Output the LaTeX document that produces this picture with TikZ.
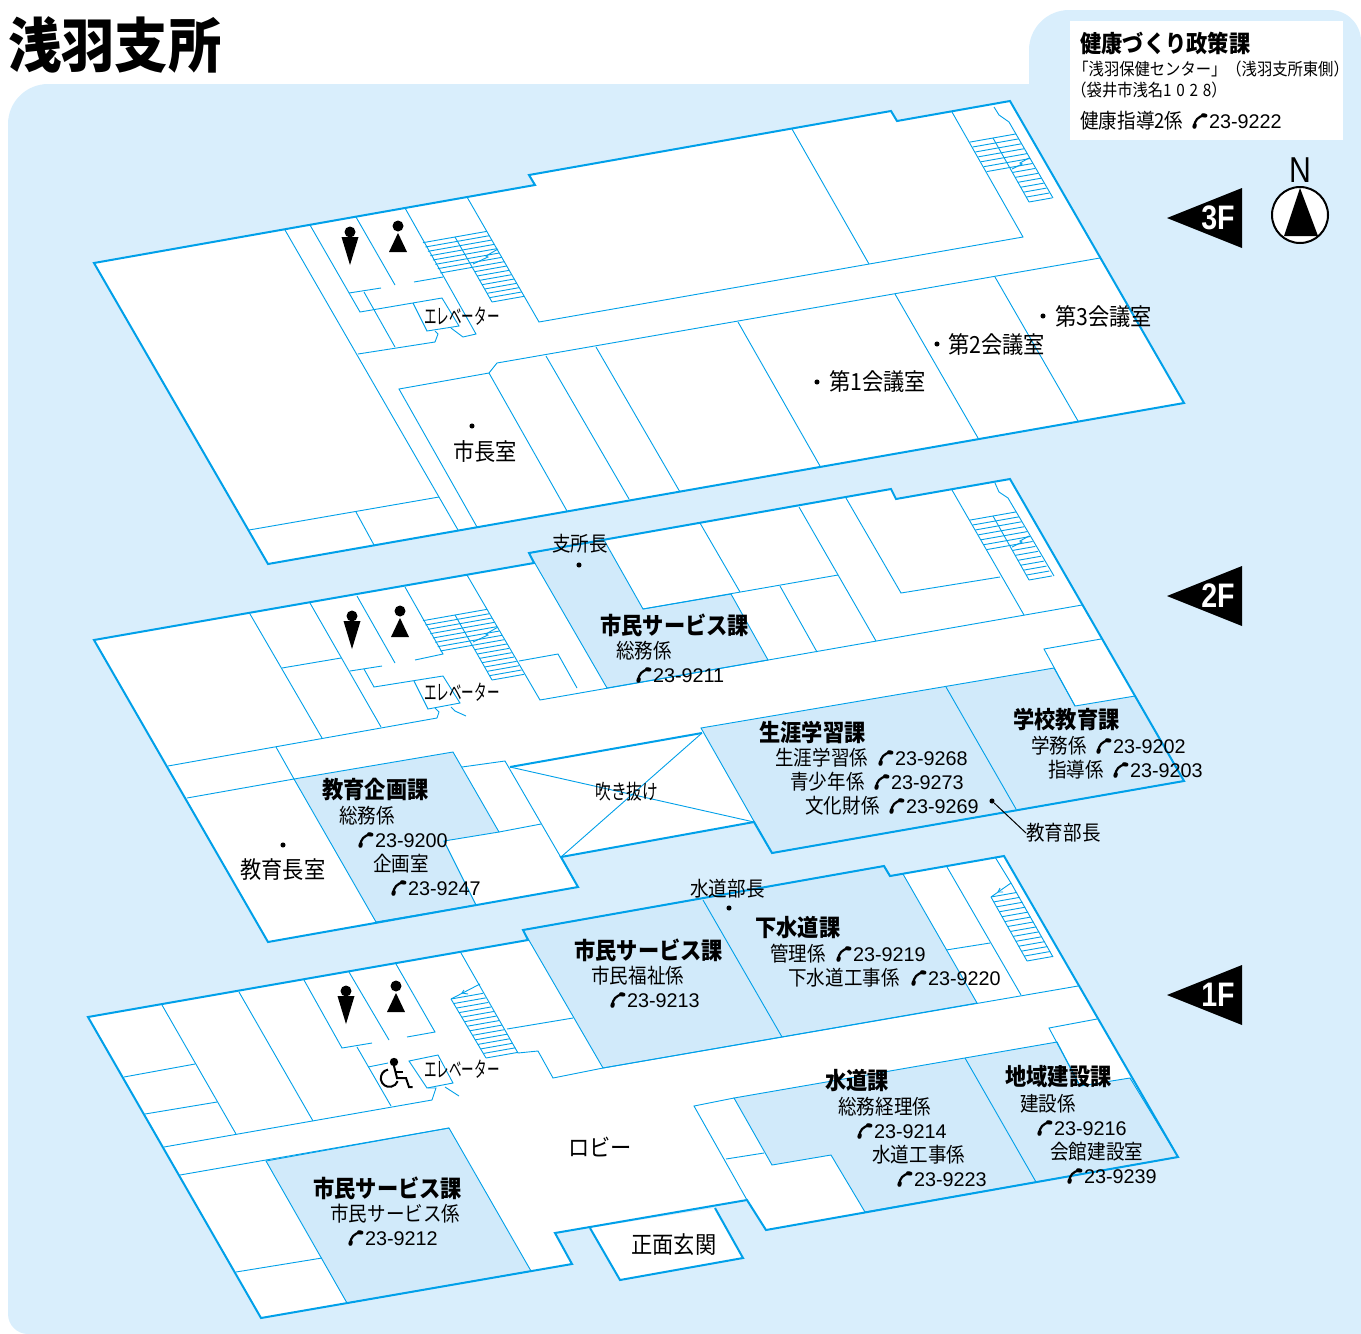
\documentclass[tikz,border=0pt]{standalone}
\usepackage{fontspec}
\setmainfont{Liberation Sans}
\newfontfamily\jpfont[FakeStretch=0.9]{Noto Sans CJK JP}
\newfontfamily\liftfont[FakeStretch=0.58]{Noto Sans CJK JP}
\newfontfamily\voidfont[FakeStretch=0.76]{Noto Sans CJK JP}
\newfontfamily\numfont{Liberation Sans}
\newfontfamily\floorfont[FakeStretch=0.84]{Liberation Sans}
\definecolor{wallblue}{HTML}{00A0E9}
\definecolor{paleblue}{HTML}{D9EEFC}
\definecolor{roomblue}{HTML}{D1EAFA}
% telephone mark and number
\newcommand{\telmark}{\tikz[baseline=0pt,x=1pt,y=1pt]{%
\draw[line width=1.1pt,line cap=round] (1,1) .. controls (0.9,3.8) and (3,6.2) .. (6,6.5);
\draw[line width=2pt,line cap=round] (1,0.8) -- (1.2,1.7);
\draw[line width=2pt,line cap=round] (5.3,6.6) -- (6.5,6.4);}}
\newcommand{\telno}[1]{\telmark\hspace{0.8pt}{\numfont\fontsize{9.9}{10}\selectfont #1}}
% stairs in two flights
\newcommand{\stairpair}[6]{%
\foreach \i in {0,...,#6}{%
\pgfmathsetmacro\sx{#1+#3*\i/#6}
\pgfmathsetmacro\sy{#2+#4*\i/#6}
\draw[walldecorate] ({\sx+#5},{\sy-#5*0.177}) -- (\sx,\sy);
\ifnum\i<\numexpr(#6+1)/2\relax
\draw[walldecorate] (\sx,\sy) -- ({\sx-#5},{\sy+#5*0.177});
\fi}
\draw[walldecorate] (#1,#2) -- ({#1+#3},{#2+#4});}
% stairs in one flight
\newcommand{\stairrun}[6]{%
\foreach \i in {0,...,#6}{%
\pgfmathsetmacro\sx{#1+#3*\i/#6}
\pgfmathsetmacro\sy{#2+#4*\i/#6}
\draw[walldecorate] ({\sx+#5},{\sy-#5*0.177}) -- (\sx,\sy);}
\draw[walldecorate] (#1,#2) -- ({#1+#3},{#2+#4});}
% toilet signs
\newcommand{\gentsign}[2]{%
\fill (#1,#2) circle (5.5);
\fill ({#1-8.5},{#2+5}) -- ({#1+8.5},{#2+5}) -- (#1,{#2+33}) -- cycle;}
\newcommand{\ladiessign}[2]{%
\fill (#1,#2) circle (5.5);
\fill (#1,{#2+7}) -- ({#1+9},{#2+26}) -- ({#1-9},{#2+26}) -- cycle;}
\begin{document}
\begin{tikzpicture}
[x=0.5pt,y=-0.5pt,%
  walldecorate/.style={draw=wallblue,line width=0.45pt},%
  outerdecorate/.style={draw=wallblue,line width=1pt,line join=miter},%
  roomdecorate/.style={fill=roomblue,draw=wallblue,line width=0.45pt},%
  deptdecorate/.style={anchor=west,inner sep=0pt,font=\jpfont\bfseries\fontsize{11.8}{12}\selectfont},%
  staffdecorate/.style={anchor=west,inner sep=0pt,font=\jpfont\fontsize{10.3}{11}\selectfont},%
  namedecorate/.style={anchor=west,inner sep=0pt,font=\jpfont\fontsize{11.8}{12}\selectfont},%
  liftdecorate/.style={anchor=west,inner sep=0pt,font=\liftfont\fontsize{10.8}{11}\selectfont},%
  voiddecorate/.style={anchor=west,inner sep=0pt,font=\voidfont\fontsize{10.3}{11}\selectfont},%
  smalldecorate/.style={anchor=west,inner sep=0pt,font=\jpfont\fontsize{8.5}{9}\selectfont},%
  teldecorate/.style={anchor=west,inner sep=0pt},%
  dotdecorate/.style={shape=circle,fill=black,inner sep=0.9pt},%
  floordecorate/.style={fill=black},%
  floortextdecorate/.style={text=white,inner sep=0pt,font=\floorfont\bfseries\fontsize{17}{17}\selectfont}]
\useasboundingbox (0,0) rectangle (1361,1334);
\def\floorthree{(94,263) -- (535,185) -- (529,175) -- (891,111) -- (897,121) -- (1010,101) -- (1184,403) -- (268,564) -- cycle}
\def\floortwo{(94,640) -- (534,563) -- (529,553) -- (891,489) -- (896,499) -- (1010,479) -- (1184,781) -- (772,853) -- (754,822) -- (561,857) -- (578,887) -- (268,942) -- cycle}
\def\floorone{(88,1017) -- (528,940) -- (523,930) -- (884,866) -- (890,876) -- (1004,856) -- (1178,1157) -- (766,1230) -- (747,1200) -- (555,1233) -- (572,1264) -- (261,1318) -- cycle}
\def\porchone{(590,1228) -- (620,1280) -- (743,1258) -- (715,1208)}
% background
\fill[paleblue] (8,124) .. controls (8,102) and (26,84) .. (48,84) -- (1029,84) -- (1029,50) .. controls (1029,28) and (1047,10) .. (1069,10) -- (1330,10) .. controls (1347,10) and (1361,24) .. (1361,41) -- (1361,1334) -- (28,1334) .. controls (17,1334) and (8,1325) .. (8,1314) -- cycle;
\fill[white] (1070,21) rectangle (1343,140);
\fill[white] \floorthree;
\fill[white] \floortwo;
\fill[white] \floorone;
\fill[white] (590,1228) -- (620,1280) -- (743,1258) -- (715,1208) -- cycle;
% section rooms
\draw[roomdecorate] (529,553) -- (604,540) -- (643,609) -- (731,594) -- (768,660) -- (607,688) -- cycle;
\draw[roomdecorate] (701,728) -- (1054,668) -- (1075,706) -- (1135,696) -- (1184,781) -- (772,853) -- cycle;
\draw[roomdecorate] (294,779) -- (453,752) -- (499,832) -- (444,841) -- (476,905) -- (376,922) -- cycle;
\draw[roomdecorate] (523,930) -- (884,866) -- (890,876) -- (903,874) -- (977,1003) -- (603,1068) -- cycle;
\draw[roomdecorate] (734,1098) -- (1057,1042) -- (1080,1086) -- (1130,1078) -- (1178,1157) -- (865,1212) -- (831,1155) -- (772,1165) -- cycle;
\draw[roomdecorate] (266,1161) -- (449,1128) -- (531,1271) -- (347,1303) -- cycle;
% 3F walls
\draw[walldecorate] (285,230) -- (458,530);
\draw[walldecorate] (310,225) -- (360,312) -- (442,298) -- (459,326) -- (427,331) -- (413,303);
\draw[walldecorate] (349,293) -- (381,288);
\draw[walldecorate] (356,217) -- (395,285);
\draw[walldecorate] (405,208) -- (476,334) -- (463,337) -- (451,328);
\draw[walldecorate] (414,282) -- (443,277);
\draw[walldecorate] (364,292) -- (395,347);
\draw[walldecorate] (358,354) -- (435,342) -- (438,334) -- (435,331);
\draw[walldecorate] (467,197) -- (539,322) -- (1023,237) -- (952,112);
\draw[walldecorate] (792,129) -- (869,264);
\draw[walldecorate] (994,107) -- (999,115) -- (1009,122) -- (1053,198);
\draw[walldecorate] (1100,258) -- (497,363) -- (489,373) -- (399,389) -- (477,527);
\draw[walldecorate] (489,373) -- (567,511);
\draw[walldecorate] (546,356) -- (629,499);
\draw[walldecorate] (596,347) -- (680,492);
\draw[walldecorate] (738,322) -- (820,466);
\draw[walldecorate] (895,294) -- (978,438);
\draw[walldecorate] (995,277) -- (1078,421);
\draw[walldecorate] (249,530) -- (439,497);
\draw[walldecorate] (356,512) -- (374,545);
\stairpair{455}{237}{37}{65}{32}{15}
\stairpair{993}{138}{36}{64}{23}{13}
\draw[walldecorate] (498,249) -- (486,256) -- (488,257) -- (473,264);
\draw[walldecorate] (1029,158) -- (1020,163) -- (1022,164) -- (1012,169);
% 2F walls
\draw[walldecorate] (250,614) -- (322,738);
\draw[walldecorate] (310,603) -- (381,727);
\draw[walldecorate] (357,596) -- (395,663);
\draw[walldecorate] (405,587) -- (443,654) -- (415,660);
\draw[walldecorate] (282,668) -- (341,658);
\draw[walldecorate] (350,671) -- (382,666);
\draw[walldecorate] (364,669) -- (374,687) -- (443,676) -- (460,703) -- (428,709) -- (414,681);
\draw[walldecorate] (168,766) -- (437,718) -- (439,712) -- (435,708);
\draw[walldecorate] (451,707) -- (455,711) -- (466,716);
\draw[walldecorate] (276,747) -- (294,779) -- (187,798);
\draw[walldecorate] (462,767) -- (505,761) -- (578,887);
\draw[walldecorate] (499,832) -- (541,824);
\draw[walldecorate] (467,575) -- (540,700) -- (1082,605);
\draw[walldecorate] (519,661) -- (558,654) -- (577,688);
\draw[walldecorate] (700,523) -- (740,592);
\draw[walldecorate] (643,609) -- (838,575);
\draw[walldecorate] (799,507) -- (876,641);
\draw[walldecorate] (780,586) -- (817,652);
\draw[walldecorate] (846,498) -- (901,593) -- (1000,577);
\draw[walldecorate] (952,490) -- (1024,615);
\draw[walldecorate] (995,483) -- (999,492) -- (1008,498) -- (1054,576);
\draw[walldecorate] (1101,639) -- (1044,649) -- (1075,706);
\draw[walldecorate] (946,687) -- (1016,809);
\draw[walldecorate] (510,767) -- (754,822);
\draw[walldecorate] (561,857) -- (702,733);
\draw[outerdecorate] (510,767) -- (702,733);
\stairpair{455}{615}{37}{65}{32}{15}
\stairpair{993}{516}{36}{64}{23}{13}
\draw[walldecorate] (498,627) -- (486,634) -- (488,635) -- (473,642);
\draw[walldecorate] (1029,536) -- (1020,541) -- (1022,542) -- (1012,547);
% 1F walls
\draw[walldecorate] (162,1005) -- (236,1134);
\draw[walldecorate] (239,992) -- (313,1121);
\draw[walldecorate] (304,980) -- (342,1048) -- (372,1043);
\draw[walldecorate] (349,972) -- (389,1040);
\draw[walldecorate] (396,964) -- (435,1032) -- (407,1037);
\draw[walldecorate] (461,953) -- (518,1053) -- (538,1051) -- (553,1078) -- (603,1068);
\draw[walldecorate] (507,1029) -- (573,1018);
\draw[walldecorate] (357,1047) -- (391,1106);
\draw[walldecorate] (368,1067) -- (388,1063);
\draw[walldecorate] (124,1077) -- (195,1064);
\draw[walldecorate] (145,1114) -- (217,1102);
\draw[walldecorate] (164,1147) -- (432,1100) -- (436,1088) -- (428,1088);
\draw[walldecorate] (180,1175) -- (449,1128);
\draw[walldecorate] (236,1272) -- (322,1258);
\draw[walldecorate] (409,1061) -- (438,1055) -- (453,1083) -- (427,1088) -- cycle;
\draw[walldecorate] (445,1087) -- (459,1096);
\draw[walldecorate] (703,900) -- (782,1037);
\draw[walldecorate] (946,950) -- (990,943);
\draw[walldecorate] (947,867) -- (1021,995);
\draw[walldecorate] (1078,986) -- (603,1068);
\draw[walldecorate] (995,857) -- (1011,883) -- (1053,957);
\draw[walldecorate] (1097,1019) -- (1049,1028) -- (1080,1086);
\draw[walldecorate] (734,1098) -- (694,1106) -- (747,1200);
\draw[walldecorate] (726,1159) -- (764,1153);
\draw[walldecorate] (965,1058) -- (1036,1182);
\stairrun{451}{999}{35}{59}{32}{13}
\stairrun{991}{897}{36}{64}{26}{13}
\draw[walldecorate] (451,999) -- (480,984);
\draw[walldecorate] (464,990) -- (462,993) -- (468,994);
\draw[walldecorate] (991,897) -- (1011,883);
\draw[walldecorate] (1000,888) -- (998,892) -- (1003,892);
% outer walls
\draw[outerdecorate] \floorthree;
\draw[outerdecorate] \floortwo;
\draw[outerdecorate] \floorone;
\draw[outerdecorate] \porchone;
% toilet signs and wheelchair
\gentsign{350}{232}
\ladiessign{398}{226}
\gentsign{352}{616}
\ladiessign{400}{611}
\gentsign{346}{991}
\ladiessign{396}{986}
\fill (394,1062) circle (4.2);
\draw[line width=1pt] (394,1066) -- (397,1078) -- (406,1078) -- (409,1087) -- (412.5,1087);
\draw[line width=1pt] (395,1072) -- (403,1072);
\draw[line width=1pt] (388,1069.6) arc (-100:-340:8.7);
% floor marks and north
\fill[floordecorate] (1167,218) -- (1242,188) -- (1242,248) -- cycle;
\fill[floordecorate] (1167,596) -- (1242,566) -- (1242,626) -- cycle;
\fill[floordecorate] (1167,995) -- (1242,965) -- (1242,1025) -- cycle;
\node (thirdfloor) at (1218,218) [floortextdecorate] {3F};
\node (secondfloor) at (1218,596) [floortextdecorate] {2F};
\node (firstfloor) at (1218,995) [floortextdecorate] {1F};
\node (north) at (1300,170) [inner sep=0pt,font=\floorfont\fontsize{18}{18}\selectfont] {N};
\draw[line width=1pt,fill=white] (1300,215) circle (28);
\fill (1300,188) -- (1318,236) -- (1284,236) -- cycle;
% headings
\node (title) at (8,45) [anchor=west,inner sep=0pt,font=\jpfont\bfseries\fontsize{29.6}{30}\selectfont] {浅羽支所};
\node (healthdept) at (1080,43) [deptdecorate] {健康づくり政策課};
\node (healthcentre) at (1073,69) [smalldecorate] {「浅羽保健センター」（浅羽支所東側）};
\node (healthaddress) at (1071,90) [smalldecorate] {（袋井市浅名{\addfontfeature{LetterSpace=28}1028}）};
\node (healthstaff) at (1080,121) [staffdecorate] {健康指導2係};
\node (healthtel) at (1192,121) [teldecorate] {\telno{23-9222}};
% 3F labels
\node (lift3) at (424,316) [liftdecorate] {エレベーター};
\node (mayordot) at (472,426) [dotdecorate] {};
\node (mayor) at (453,451) [namedecorate] {市長室};
\node (hall1dot) at (817,382) [dotdecorate] {};
\node (hall1) at (829,382) [namedecorate] {第1会議室};
\node (hall2dot) at (937,344) [dotdecorate] {};
\node (hall2) at (948,345) [namedecorate] {第2会議室};
\node (hall3dot) at (1043,316) [dotdecorate] {};
\node (hall3) at (1055,317) [namedecorate] {第3会議室};
% 2F labels
\node (lift2) at (424,692) [liftdecorate] {エレベーター};
\node (branchhead) at (552,544) [staffdecorate] {支所長};
\node (branchdot) at (579,565) [dotdecorate] {};
\node (citizen2) at (600,625) [deptdecorate] {市民サービス課};
\node (citizen2a) at (616,651) [staffdecorate] {総務係};
\node (citizen2t) at (636,675) [teldecorate] {\telno{23-9211}};
\node (lifelong) at (759,732) [deptdecorate] {生涯学習課};
\node (lifelonga) at (775,758) [staffdecorate] {生涯学習係};
\node (lifelongat) at (878,758) [teldecorate] {\telno{23-9268}};
\node (lifelongb) at (790,782) [staffdecorate] {青少年係};
\node (lifelongbt) at (874,782) [teldecorate] {\telno{23-9273}};
\node (lifelongc) at (805,806) [staffdecorate] {文化財係};
\node (lifelongct) at (889,806) [teldecorate] {\telno{23-9269}};
\node (edudot) at (992,801) [dotdecorate] {};
\node (eduhead) at (1026,833) [staffdecorate] {教育部長};
\node (school) at (1013,720) [deptdecorate] {学校教育課};
\node (schoola) at (1031,746) [staffdecorate] {学務係};
\node (schoolat) at (1096,746) [teldecorate] {\telno{23-9202}};
\node (schoolb) at (1048,770) [staffdecorate] {指導係};
\node (schoolbt) at (1113,770) [teldecorate] {\telno{23-9203}};
\node (eduplan) at (322,790) [deptdecorate] {教育企画課};
\node (eduplana) at (339,816) [staffdecorate] {総務係};
\node (eduplanat) at (358,840) [teldecorate] {\telno{23-9200}};
\node (eduplanb) at (373,864) [staffdecorate] {企画室};
\node (eduplanbt) at (391,888) [teldecorate] {\telno{23-9247}};
\node (supdot) at (283,845) [dotdecorate] {};
\node (sup) at (240,870) [namedecorate] {教育長室};
\node (void) at (595,792) [voiddecorate] {吹き抜け};
% 1F labels
\node (lift1) at (424,1069) [liftdecorate] {エレベーター};
\node (lobby) at (568,1147) [namedecorate] {ロビー};
\node (entrance) at (631,1245) [namedecorate] {正面玄関};
\node (citizen1) at (313,1188) [deptdecorate] {市民サービス課};
\node (citizen1a) at (330,1214) [staffdecorate] {市民サービス係};
\node (citizen1t) at (348,1238) [teldecorate] {\telno{23-9212}};
\node (citizen3) at (574,950) [deptdecorate] {市民サービス課};
\node (citizen3a) at (591,976) [staffdecorate] {市民福祉係};
\node (citizen3t) at (610,1000) [teldecorate] {\telno{23-9213}};
\node (waterhead) at (690,889) [staffdecorate] {水道部長};
\node (waterdot) at (729,908) [dotdecorate] {};
\node (sewer) at (755,928) [deptdecorate] {下水道課};
\node (sewera) at (770,954) [staffdecorate] {管理係};
\node (sewerat) at (836,954) [teldecorate] {\telno{23-9219}};
\node (sewerb) at (788,978) [staffdecorate] {下水道工事係};
\node (sewerbt) at (911,978) [teldecorate] {\telno{23-9220}};
\node (water) at (825,1081) [deptdecorate] {水道課};
\node (watera) at (838,1107) [staffdecorate] {総務経理係};
\node (waterat) at (857,1131) [teldecorate] {\telno{23-9214}};
\node (waterb) at (872,1155) [staffdecorate] {水道工事係};
\node (waterbt) at (897,1179) [teldecorate] {\telno{23-9223}};
\node (region) at (1005,1077) [deptdecorate] {地域建設課};
\node (regiona) at (1020,1104) [staffdecorate] {建設係};
\node (regionat) at (1037,1128) [teldecorate] {\telno{23-9216}};
\node (regionb) at (1050,1152) [staffdecorate] {会館建設室};
\node (regionbt) at (1067,1176) [teldecorate] {\telno{23-9239}};
% leader line
\draw[line width=0.5pt] (edudot) -- (eduhead.west);
\end{tikzpicture}
\end{document}
